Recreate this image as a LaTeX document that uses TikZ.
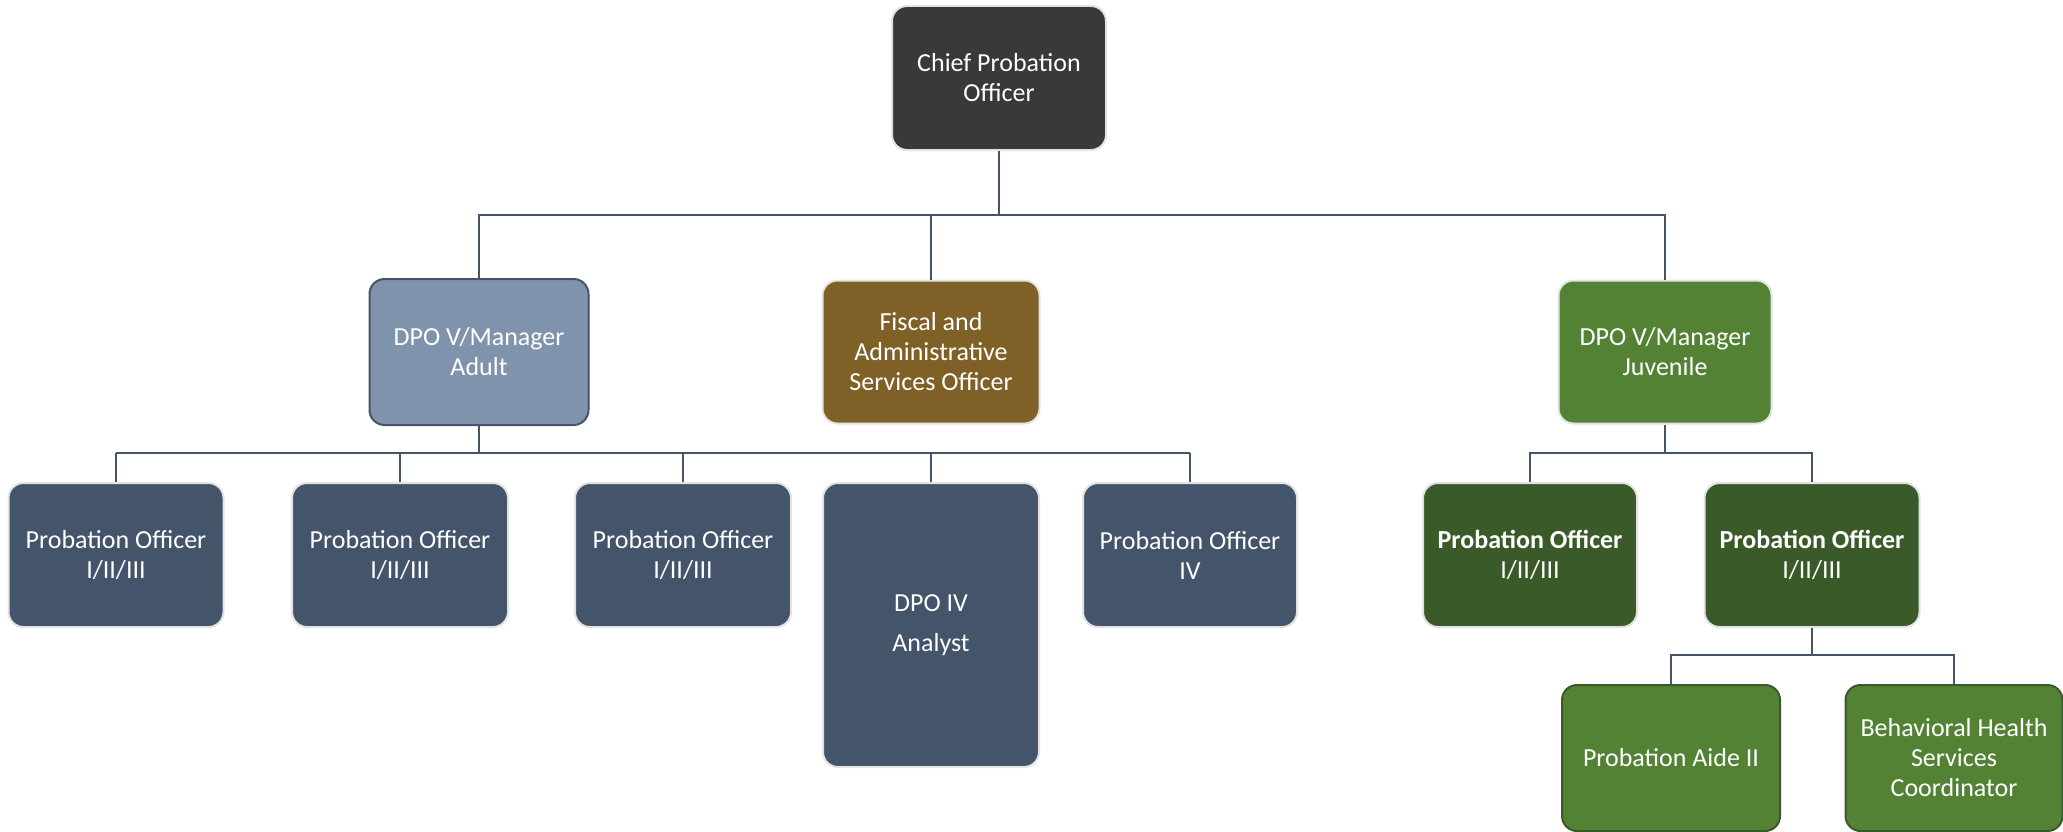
\documentclass[tikz,border=0pt]{standalone}
\usepackage{fontspec}
\setmainfont{Carlito}
\definecolor{chiefc}{HTML}{3A3838}
\definecolor{adultc}{HTML}{7F93AD}
\definecolor{slate}{HTML}{44546A}
\definecolor{fiscalc}{HTML}{7F6128}
\definecolor{greenc}{HTML}{548235}
\definecolor{dgreenc}{HTML}{3B5A2A}
\definecolor{lightb}{HTML}{E3E3E3}
\tikzset{
  box/.style={rectangle, rounded corners=15pt, draw=lightb, line width=2pt, text=white,
    align=center, inner sep=0pt, font=\fontsize{26}{30}\selectfont},
  conn/.style={draw=slate, line width=2.4pt},
  drop/.style={draw=slate, line width=2pt},
}
\begin{document}
\begin{tikzpicture}[x=1pt,y=-1pt]
\useasboundingbox (0,0) rectangle (2063,832);
% level 1
\node[box, fill=chiefc, minimum width=214pt, minimum height=144pt] (chief) at (999,78) {Chief Probation\\Officer};
% level 2
\node[box, fill=adultc, draw=slate, minimum width=219pt, minimum height=146pt] (adult) at (479,352) {DPO V/Manager\\Adult};
\node[box, fill=fiscalc, minimum width=217pt, minimum height=143pt] (fiscal) at (931,352) {Fiscal and\\Administrative\\Services Officer};
\node[box, fill=greenc, minimum width=213pt, minimum height=143pt] (juv) at (1665,352) {DPO V/Manager\\Juvenile};
% level 3 adult
\node[box, fill=slate, minimum width=215pt, minimum height=144pt] (po1) at (116,555) {Probation Officer\\I/II/III};
\node[box, fill=slate, minimum width=216pt, minimum height=144pt] (po2) at (400,555) {Probation Officer\\I/II/III};
\node[box, fill=slate, minimum width=216pt, minimum height=144pt] (po3) at (683,555) {Probation Officer\\I/II/III};
\node[box, fill=slate, minimum width=216pt, minimum height=284pt] (dpo4) at (931,625) {DPO IV\\[10pt]Analyst};
\node[box, fill=slate, minimum width=214pt, minimum height=144pt] (po4) at (1190,555) {Probation Officer\\IV};
% level 3 juvenile
\node[box, fill=dgreenc, minimum width=214pt, minimum height=144pt] (jpo1) at (1530,555) {\textbf{Probation Officer}\\I/II/III};
\node[box, fill=dgreenc, minimum width=215pt, minimum height=144pt] (jpo2) at (1812,555) {\textbf{Probation Officer}\\I/II/III};
% level 4
\node[box, fill=greenc, draw=dgreenc, minimum width=218pt, minimum height=146pt] (aide) at (1671,758) {Probation Aide II};
\node[box, fill=greenc, draw=dgreenc, minimum width=217pt, minimum height=146pt] (bhsc) at (1954,758) {Behavioral Health\\Services\\Coordinator};
% connectors
\coordinate (b1) at (999,215);
\coordinate (b2) at (479,453);
\coordinate (b3) at (1665,453);
\coordinate (b4) at (1812,655);
\draw[conn] (chief.south) -- (b1);
\draw[conn] (adult.north) |- (b1) -| (juv.north);
\draw[conn] (fiscal.north) -- (fiscal.north |- b1);
\draw[conn] (adult.south) -- (b2);
\draw[conn] (po1.north |- b2) -- (po4.north |- b2);
\draw[drop] (po1.north) -- (po1.north |- b2);
\draw[drop] (po2.north) -- (po2.north |- b2);
\draw[drop] (po3.north) -- (po3.north |- b2);
\draw[drop] (dpo4.north) -- (dpo4.north |- b2);
\draw[drop] (po4.north) -- (po4.north |- b2);
\draw[conn] (juv.south) -- (b3);
\draw[conn] (jpo1.north) |- (b3) -| (jpo2.north);
\draw[conn] (jpo2.south) -- (b4);
\draw[conn] (aide.north) |- (b4) -| (bhsc.north);
\end{tikzpicture}
\end{document}
